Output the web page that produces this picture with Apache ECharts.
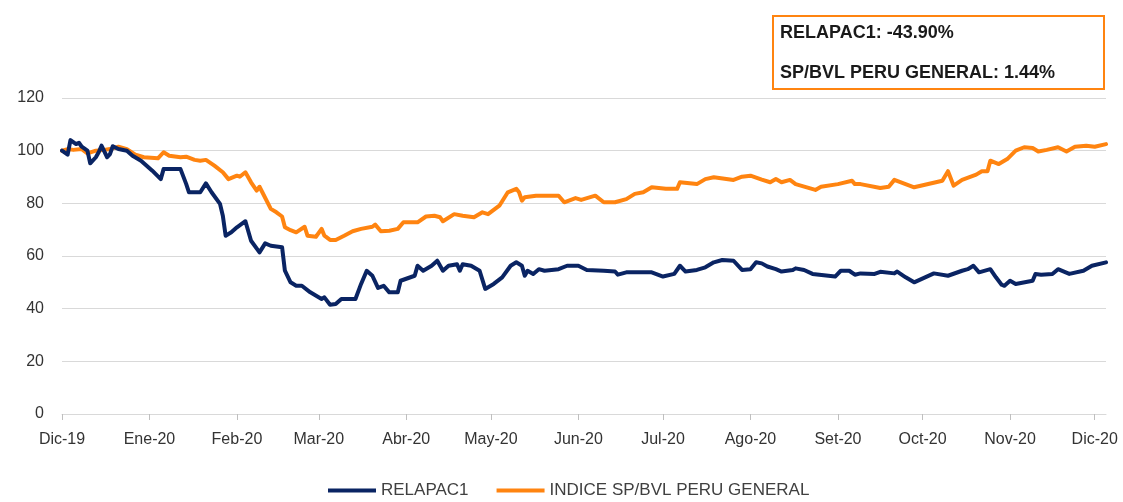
<!DOCTYPE html>
<html>
<head>
<meta charset="utf-8">
<script src="https://cdn.jsdelivr.net/npm/echarts@6/dist/echarts.min.js"></script>
<style>
html,body{margin:0;padding:0;background:#fff;}
#chart{width:1123px;height:502px;}
</style>
</head>
<body>
<div id="chart"></div>
<script>
// ---- data ----
var seriesNames = ['RELAPAC1', 'INDICE SP/BVL PERU GENERAL'];
var tickLabels = ['Dic-19','Ene-20','Feb-20','Mar-20','Abr-20','May-20','Jun-20','Jul-20','Ago-20','Set-20','Oct-20','Nov-20','Dic-20'];
var axisStart = '2019-12-01';
var axisEnd = '2020-12-05';
var yTicks = [0, 20, 40, 60, 80, 100, 120];
var noteLines = ['RELAPAC1: -43.90%', 'SP/BVL PERU GENERAL: 1.44%'];

var relDates = ['2019-12-01','2019-12-03','2019-12-04','2019-12-06','2019-12-07','2019-12-08','2019-12-10','2019-12-11','2019-12-13','2019-12-14','2019-12-15','2019-12-17','2019-12-18','2019-12-19','2019-12-21','2019-12-24','2019-12-26','2019-12-29',
'2020-01-02','2020-01-05','2020-01-06','2020-01-12','2020-01-14','2020-01-15','2020-01-19','2020-01-21','2020-01-23','2020-01-26','2020-01-27','2020-01-28','2020-01-30',
'2020-02-01','2020-02-04','2020-02-06','2020-02-09','2020-02-11','2020-02-13','2020-02-17','2020-02-18','2020-02-20','2020-02-22','2020-02-24','2020-02-27',
'2020-03-02','2020-03-03','2020-03-05','2020-03-07','2020-03-09','2020-03-14','2020-03-16','2020-03-18','2020-03-20','2020-03-22','2020-03-24','2020-03-26','2020-03-29','2020-03-30',
'2020-04-04','2020-04-05','2020-04-07','2020-04-10','2020-04-12','2020-04-14','2020-04-16','2020-04-19','2020-04-20','2020-04-21','2020-04-24','2020-04-27','2020-04-29',
'2020-05-02','2020-05-05','2020-05-08','2020-05-10','2020-05-12','2020-05-13','2020-05-14','2020-05-16','2020-05-18','2020-05-20','2020-05-25','2020-05-28',
'2020-06-01','2020-06-04','2020-06-10','2020-06-14','2020-06-15','2020-06-18','2020-06-27',
'2020-07-01','2020-07-05','2020-07-07','2020-07-09','2020-07-13','2020-07-16','2020-07-19','2020-07-22','2020-07-26','2020-07-29',
'2020-08-01','2020-08-03','2020-08-05','2020-08-07','2020-08-10','2020-08-12','2020-08-16','2020-08-17','2020-08-20','2020-08-23','2020-08-31',
'2020-09-02','2020-09-05','2020-09-07','2020-09-09','2020-09-14','2020-09-16','2020-09-21','2020-09-22','2020-09-25','2020-09-28',
'2020-10-05','2020-10-10','2020-10-15','2020-10-17','2020-10-19','2020-10-21','2020-10-25','2020-10-27','2020-10-29','2020-10-30',
'2020-11-01','2020-11-03','2020-11-09','2020-11-10','2020-11-12','2020-11-16','2020-11-18','2020-11-22','2020-11-27','2020-11-30','2020-12-05'];
var relValues = [100,98.5,104,102.5,103,101.5,100,95.2,97.5,99.4,101.9,97.5,98.7,101.7,100.6,100,98.1,96.2,
92.4,89.2,93,93,87.4,84.2,84.2,87.6,84.2,79.8,75.3,67.7,69,
70.9,73.2,65.8,61.4,64.8,63.9,63.3,54.4,50,48.7,48.7,46.2,
43.7,44.3,41.5,41.8,43.7,43.7,49.4,54.4,52.5,47.9,48.7,46.2,46.2,50.6,
52.5,56.3,54.4,56.3,58.2,54.4,56.3,56.9,54.4,56.9,56.3,54.4,47.5,
49.4,51.9,56.3,57.6,56.3,52.5,54.4,53.2,55,54.4,55,56.3,
56.3,54.7,54.4,54.1,52.9,53.8,53.8,
52.2,53.2,56.3,54.1,54.7,55.7,57.6,58.5,58.2,54.7,
55,57.6,57.2,56,55,54.1,54.7,55.3,54.7,53.2,52.2,
54.4,54.4,52.9,53.4,53.2,54,53.4,54.1,51.9,50,
53.4,52.5,54.4,55,56.3,53.8,55,51.9,49.1,48.7,
50.6,49.4,50.6,53.2,52.9,53.2,55,53.2,54.4,56.3,57.6];

var spDates = ['2019-12-01','2019-12-03','2019-12-05','2019-12-08','2019-12-10','2019-12-13','2019-12-16','2019-12-18','2019-12-21','2019-12-24','2019-12-27','2019-12-30',
'2020-01-04','2020-01-06','2020-01-08','2020-01-12','2020-01-14','2020-01-17','2020-01-19','2020-01-21','2020-01-24','2020-01-27','2020-01-29',
'2020-02-01','2020-02-02','2020-02-04','2020-02-06','2020-02-08','2020-02-09','2020-02-10','2020-02-13','2020-02-15','2020-02-17','2020-02-18','2020-02-20','2020-02-22','2020-02-25','2020-02-26','2020-02-29',
'2020-03-02','2020-03-03','2020-03-05','2020-03-07','2020-03-10','2020-03-13','2020-03-16','2020-03-20','2020-03-21','2020-03-23','2020-03-26','2020-03-29','2020-03-31',
'2020-04-05','2020-04-08','2020-04-11','2020-04-13','2020-04-14','2020-04-18','2020-04-21','2020-04-25','2020-04-28','2020-04-30',
'2020-05-04','2020-05-07','2020-05-10','2020-05-11','2020-05-12','2020-05-13','2020-05-17','2020-05-25','2020-05-27','2020-05-31',
'2020-06-02','2020-06-07','2020-06-10','2020-06-14','2020-06-18','2020-06-21','2020-06-24','2020-06-27',
'2020-07-02','2020-07-06','2020-07-07','2020-07-13','2020-07-16','2020-07-19','2020-07-26','2020-07-29',
'2020-08-01','2020-08-05','2020-08-08','2020-08-10','2020-08-12','2020-08-15','2020-08-17','2020-08-24','2020-08-26',
'2020-09-01','2020-09-06','2020-09-07','2020-09-09','2020-09-16','2020-09-19','2020-09-21','2020-09-28',
'2020-10-08','2020-10-10','2020-10-12','2020-10-15','2020-10-20','2020-10-22','2020-10-24','2020-10-25','2020-10-28','2020-10-31',
'2020-11-03','2020-11-06','2020-11-09','2020-11-11','2020-11-14','2020-11-18','2020-11-21','2020-11-24','2020-11-28','2020-12-01','2020-12-05'];
var spValues = [100,100.6,100.3,100.6,99,100,100.3,100.6,101.5,100.6,98.5,97.5,
97.1,99.4,98.1,97.5,97.7,96.5,96.2,96.5,94.3,91.8,89.2,
90.5,90.1,91.8,88,84.8,86.3,84.2,77.9,76.6,75,70.9,69.8,69,71.1,67.7,67.3,
70.3,67.7,66.1,66.1,67.7,69.4,70.3,71.1,71.9,69.4,69.6,70.3,72.8,
72.8,75,75.3,74.7,73.2,75.9,75.3,74.7,76.6,75.9,
79.1,84.2,85.5,84.2,81,82.3,82.9,82.9,80.4,82,
81.3,82.9,80.4,80.4,81.6,83.6,84.2,86.1,
85.5,85.5,88,87.3,89.2,89.9,88.9,90.1,
90.5,89,88,89.2,88,88.9,87.3,85.1,86.3,
87.3,88.6,87.3,87.3,85.8,86.3,88.9,86.1,
88.6,92.2,86.7,88.9,90.9,92.2,92.2,96.2,94.9,96.8,
100,101.3,101,99.7,100.3,101.3,99.7,101.5,101.9,101.5,102.5];

// ---- build categories (every calendar day) ----
function fmt(d){
  var m = d.getUTCMonth()+1, dd = d.getUTCDate();
  return d.getUTCFullYear()+'-'+(m<10?'0':'')+m+'-'+(dd<10?'0':'')+dd;
}
var days = [];
(function(){
  var s = new Date(axisStart+'T00:00:00Z'), e = new Date(axisEnd+'T00:00:00Z');
  for (var t = s.getTime(); t <= e.getTime(); t += 86400000) days.push(fmt(new Date(t)));
})();
var monthStarts = days.filter(function(d){ return d.slice(8) === '01'; });
function isMonthStart(idx, val){ return val.slice(8) === '01'; }

var FONT = '"Liberation Sans", Arial, sans-serif';
var chart = echarts.init(document.getElementById('chart'), null, {renderer:'canvas'});
chart.setOption({
  animation: false,
  backgroundColor: '#ffffff',
  grid: {left: 62, right: 17, top: 98, bottom: 88, containLabel: false},
  xAxis: {
    type: 'category',
    data: days,
    boundaryGap: false,
    axisLine: {show: true, lineStyle: {color: '#d9d9d9', width: 1}},
    axisTick: {show: true, interval: isMonthStart, length: 6, lineStyle: {color: '#bfbfbf'}},
    axisLabel: {
      interval: isMonthStart, margin: 18, color: '#333333', fontSize: 16, fontFamily: FONT,
      formatter: function(v){ var i = monthStarts.indexOf(v); return i >= 0 ? tickLabels[i] : ''; }
    },
    splitLine: {show: false}
  },
  yAxis: {
    type: 'value', min: yTicks[0], max: yTicks[yTicks.length-1], interval: 20,
    axisLine: {show: false}, axisTick: {show: false},
    axisLabel: {margin: 18, color: '#333333', fontSize: 16, fontFamily: FONT},
    splitLine: {show: true, lineStyle: {color: '#d9d9d9', width: 1}}
  },
  legend: {
    bottom: -2, left: 323, icon: 'rect', itemWidth: 48, itemHeight: 4, itemGap: 28,
    textStyle: {color: '#404040', fontSize: 17, fontFamily: FONT},
    data: seriesNames
  },
  series: [
    {name: seriesNames[0], type: 'line', showSymbol: false, symbol: 'none',
     lineStyle: {color: '#0a2463', width: 4, join: 'round', cap: 'round'}, itemStyle: {color: '#0a2463'},
     data: relDates.map(function(d,i){ return [d, relValues[i]]; }), z: 3},
    {name: seriesNames[1], type: 'line', showSymbol: false, symbol: 'none',
     lineStyle: {color: '#ff8410', width: 4, join: 'round', cap: 'round'}, itemStyle: {color: '#ff8410'},
     data: spDates.map(function(d,i){ return [d, spValues[i]]; }), z: 2}
  ],
  graphic: [
    {type: 'rect', left: 772, top: 15, shape: {width: 331, height: 73},
     style: {fill: '#ffffff', stroke: '#ff8410', lineWidth: 2}, z: 10},
    {type: 'text', left: 780, top: 24, z: 11,
     style: {text: noteLines[0], fill: '#1a1a1a', font: 'bold 18px ' + FONT}},
    {type: 'text', left: 780, top: 64, z: 11,
     style: {text: noteLines[1], fill: '#1a1a1a', font: 'bold 18px ' + FONT}}
  ]
});
</script>
</body>
</html>
